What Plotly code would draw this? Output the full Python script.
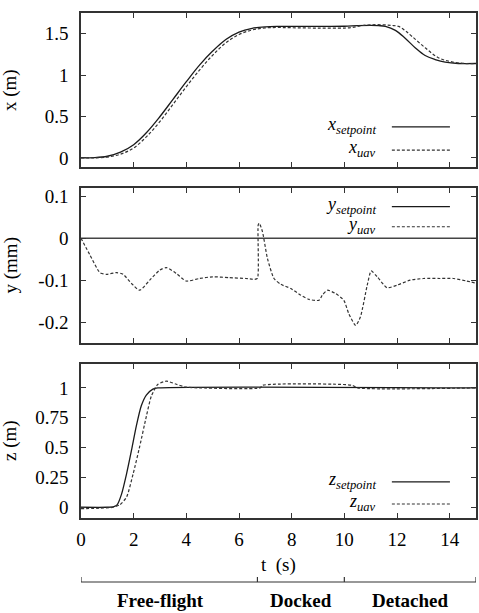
import plotly.graph_objects as go

# ---------------- data ----------------
# x position
tx_sp = [0, 0.5, 1.0, 1.5, 2.0, 2.5, 3.0, 3.5, 4.0, 4.5, 5.0, 5.5, 6.0, 6.5, 7.0, 7.5, 8.0, 9.0, 10.0, 10.5, 11.0, 11.3, 11.56, 11.94, 12.3, 12.7, 13.07, 13.45, 13.83, 14.33, 15.0]
x_sp = [0, 0.003, 0.02, 0.07, 0.16, 0.31, 0.50, 0.71, 0.92, 1.12, 1.29, 1.43, 1.52, 1.565, 1.583, 1.588, 1.588, 1.588, 1.59, 1.597, 1.60, 1.597, 1.588, 1.54, 1.448, 1.328, 1.236, 1.188, 1.156, 1.14, 1.14]
tx_uav = [0, 0.5, 1.0, 1.5, 2.0, 2.5, 3.0, 3.5, 4.0, 4.5, 5.0, 5.5, 6.0, 6.5, 7.0, 7.5, 8.0, 9.0, 10.0, 10.3, 10.6, 11.0, 11.5, 11.8, 12.06, 12.3, 12.56, 13.07, 13.57, 14.08, 14.58, 15.0]
x_uav = [0, 0.0, 0.01, 0.045, 0.12, 0.26, 0.44, 0.65, 0.86, 1.06, 1.24, 1.39, 1.49, 1.545, 1.57, 1.575, 1.572, 1.568, 1.568, 1.575, 1.595, 1.607, 1.607, 1.60, 1.588, 1.54, 1.47, 1.33, 1.21, 1.16, 1.14, 1.14]

# y position
ty_sp = [0, 15]
y_sp = [0, 0]
ty_uav = [0, 0.34, 0.72, 0.97, 1.35, 1.6, 1.92, 2.23, 2.61, 2.99, 3.24, 3.62, 3.99, 4.5, 5.0, 5.63, 6.26, 6.58, 6.70, 6.73, 6.77, 6.89, 7.08, 7.33, 7.59, 7.97, 8.35, 8.66, 9.04, 9.16, 9.36, 9.67, 9.98, 10.17, 10.43, 10.61, 10.87, 11.02, 11.25, 11.62, 12.0, 12.5, 13.0, 13.64, 14.14, 14.64, 15.0]
y_uav = [0, -0.04, -0.082, -0.086, -0.082, -0.086, -0.108, -0.124, -0.10, -0.076, -0.07, -0.084, -0.102, -0.096, -0.092, -0.094, -0.096, -0.098, -0.096, 0.032, 0.036, 0.016, -0.048, -0.096, -0.11, -0.12, -0.136, -0.146, -0.148, -0.136, -0.124, -0.132, -0.148, -0.18, -0.208, -0.188, -0.112, -0.078, -0.092, -0.118, -0.112, -0.10, -0.096, -0.096, -0.096, -0.102, -0.107]

# z position
tz_sp = [0, 1.0, 1.25, 1.37, 1.54, 1.73, 1.92, 2.10, 2.29, 2.48, 2.73, 2.92, 15.0]
z_sp = [0, 0.0, 0.006, 0.02, 0.11, 0.28, 0.48, 0.68, 0.85, 0.94, 0.99, 1.0, 1.0]
tz_uav = [0, 0.72, 1.22, 1.47, 1.73, 1.98, 2.23, 2.48, 2.67, 2.92, 3.24, 3.62, 3.99, 4.5, 6.8, 6.9, 10.3, 10.5, 15.0]
z_uav = [-0.012, -0.008, 0.0, 0.02, 0.085, 0.28, 0.51, 0.76, 0.93, 1.03, 1.056, 1.03, 1.006, 1.0, 1.0, 1.022, 1.022, 1.0, 1.0]

# axes
t_ticks = [0, 2, 4, 6, 8, 10, 12, 14]
x_ticks = [0, 0.5, 1, 1.5]
x_ticktext = ["0", "0.5", "1", "1.5"]
y_ticks = [-0.2, -0.1, 0, 0.1]
y_ticktext = ["-0.2", "-0.1", "0", "0.1"]
z_ticks = [0, 0.25, 0.5, 0.75, 1]
z_ticktext = ["0", "0.25", "0.5", "0.75", "1"]

# flight phases
phase_bounds = [0, 6.7, 10, 15]
phase_labels = ["Free-flight", "Docked", "Detached"]
phase_label_pos = [3.0, 8.35, 12.5]

# ---------------- figure ----------------
FONT = "Liberation Serif"
SOLID = dict(color="#1a1a1a", width=1.3)
DASH = dict(color="#333333", width=1.2, dash="3px,2px")

fig = go.Figure()
fig.add_trace(go.Scatter(x=tx_sp, y=x_sp, mode="lines", line=SOLID, line_shape="spline", xaxis="x", yaxis="y", showlegend=False))
fig.add_trace(go.Scatter(x=tx_uav, y=x_uav, mode="lines", line=DASH, line_shape="spline", xaxis="x", yaxis="y", showlegend=False))
fig.add_trace(go.Scatter(x=ty_sp, y=y_sp, mode="lines", line=dict(color="#444444", width=1.5), xaxis="x2", yaxis="y2", showlegend=False))
fig.add_trace(go.Scatter(x=ty_uav, y=y_uav, mode="lines", line=DASH, line_shape="spline", line_smoothing=0.6, xaxis="x2", yaxis="y2", showlegend=False))
fig.add_trace(go.Scatter(x=tz_sp, y=z_sp, mode="lines", line=SOLID, line_shape="spline", line_smoothing=0.6, xaxis="x3", yaxis="y3", showlegend=False))
fig.add_trace(go.Scatter(x=tz_uav, y=z_uav, mode="lines", line=DASH, line_shape="spline", line_smoothing=0.6, xaxis="x3", yaxis="y3", showlegend=False))

H_TOP, H_BOT = 13, 95
PH = 613 - H_TOP - H_BOT
def dom(top_px, bot_px):
    return [(613 - H_BOT - bot_px) / PH, (613 - H_BOT - top_px) / PH]

doms = [dom(13, 167), dom(188, 343), dom(364, 518)]
ranges = [[-0.11, 1.75], [-0.25, 0.12], [-0.09, 1.2]]
yt = [(x_ticks, x_ticktext), (y_ticks, y_ticktext), (z_ticks, z_ticktext)]

axis_common = dict(showline=True, linecolor="#333333", linewidth=1.5, mirror="allticks",
                   ticks="inside", ticklen=5, tickcolor="#333333", tickwidth=1,
                   showgrid=False, zeroline=False, tickfont=dict(family=FONT, size=19, color="black"))

layout = dict(template="none", width=479, height=613, margin=dict(l=81, r=3, t=H_TOP, b=H_BOT),
              paper_bgcolor="white", plot_bgcolor="white",
              font=dict(family=FONT, size=19, color="black"), showlegend=False)

for i in range(3):
    xn = "xaxis" if i == 0 else f"xaxis{i+1}"
    yn = "yaxis" if i == 0 else f"yaxis{i+1}"
    ya = "y" if i == 0 else f"y{i+1}"
    xa = "x" if i == 0 else f"x{i+1}"
    layout[xn] = dict(axis_common, domain=[0, 1], anchor=ya, range=[0, 15], tickvals=t_ticks,
                      showticklabels=(i == 2), ticklabelstandoff=3)
    layout[yn] = dict(axis_common, domain=doms[i], anchor=xa, range=ranges[i],
                      tickvals=yt[i][0], ticktext=yt[i][1], ticklabelstandoff=7)

fig.update_layout(**layout)

def py(p):
    return (613 - H_BOT - p) / PH

ann = []
# y-axis titles
for i, title in enumerate(["x (m)", "y (mm)", "z (m)"]):
    ann.append(dict(text=title, xref="paper", yref="paper", x=(10 - 81) / 395, y=sum(doms[i]) / 2,
                    xanchor="center", yanchor="middle", textangle=-90, showarrow=False,
                    font=dict(family=FONT, size=19, color="black")))
# x-axis title
ann.append(dict(text="t  (s)", xref="paper", yref="paper", x=0.5, y=py(565), xanchor="center",
                yanchor="middle", showarrow=False, font=dict(family=FONT, size=19, color="black")))

# legends (text on the left, sample line on the right)
legend_rows = [
    (["x", "x"], [0.27, 0.12], "y"),
    (["y", "y"], [0.89, 0.755], "y2"),
    (["z", "z"], [0.244, 0.1], "y3"),
]
line_rows = [[0.26, 0.11], [0.88, 0.75], [0.234, 0.091]]
shapes = []
for k, (letters, ys, yref) in enumerate(legend_rows):
    xr = "x" if k == 0 else f"x{k+1}"
    for j, (lab, yy) in enumerate(zip(letters, ys)):
        sub = "setpoint" if j == 0 else "uav"
        ann.append(dict(text=f"<i>{lab}<sub>{sub}</sub></i>", xref=f"{xr} domain", yref=f"{yref} domain",
                        x=0.752, y=yy, xanchor="right", yanchor="middle", showarrow=False,
                        font=dict(family=FONT, size=18, color="black")))
        ly = line_rows[k][j]
        style = dict(color="#1a1a1a", width=1.3) if j == 0 else dict(color="#333333", width=1.2, dash="3px,2px")
        shapes.append(dict(type="line", xref=f"{xr} domain", yref=f"{yref} domain",
                           x0=0.787, x1=0.934, y0=ly, y1=ly, line=style))

# phase bracket
yb = py(582)
yb2 = py(577)
shapes.append(dict(type="line", xref="x3", yref="paper", x0=phase_bounds[0], x1=phase_bounds[-1],
                   y0=yb, y1=yb, line=dict(color="#333333", width=1.2)))
for b in phase_bounds:
    shapes.append(dict(type="line", xref="x3", yref="paper", x0=b, x1=b, y0=yb, y1=yb2,
                       line=dict(color="#333333", width=1.2)))
for lab, pos in zip(phase_labels, phase_label_pos):
    ann.append(dict(text=f"<b>{lab}</b>", xref="x3", yref="paper", x=pos, y=py(600),
                    xanchor="center", yanchor="middle", showarrow=False,
                    font=dict(family=FONT, size=19, color="black")))

fig.update_layout(annotations=ann, shapes=shapes)
fig.write_html("out.html")
